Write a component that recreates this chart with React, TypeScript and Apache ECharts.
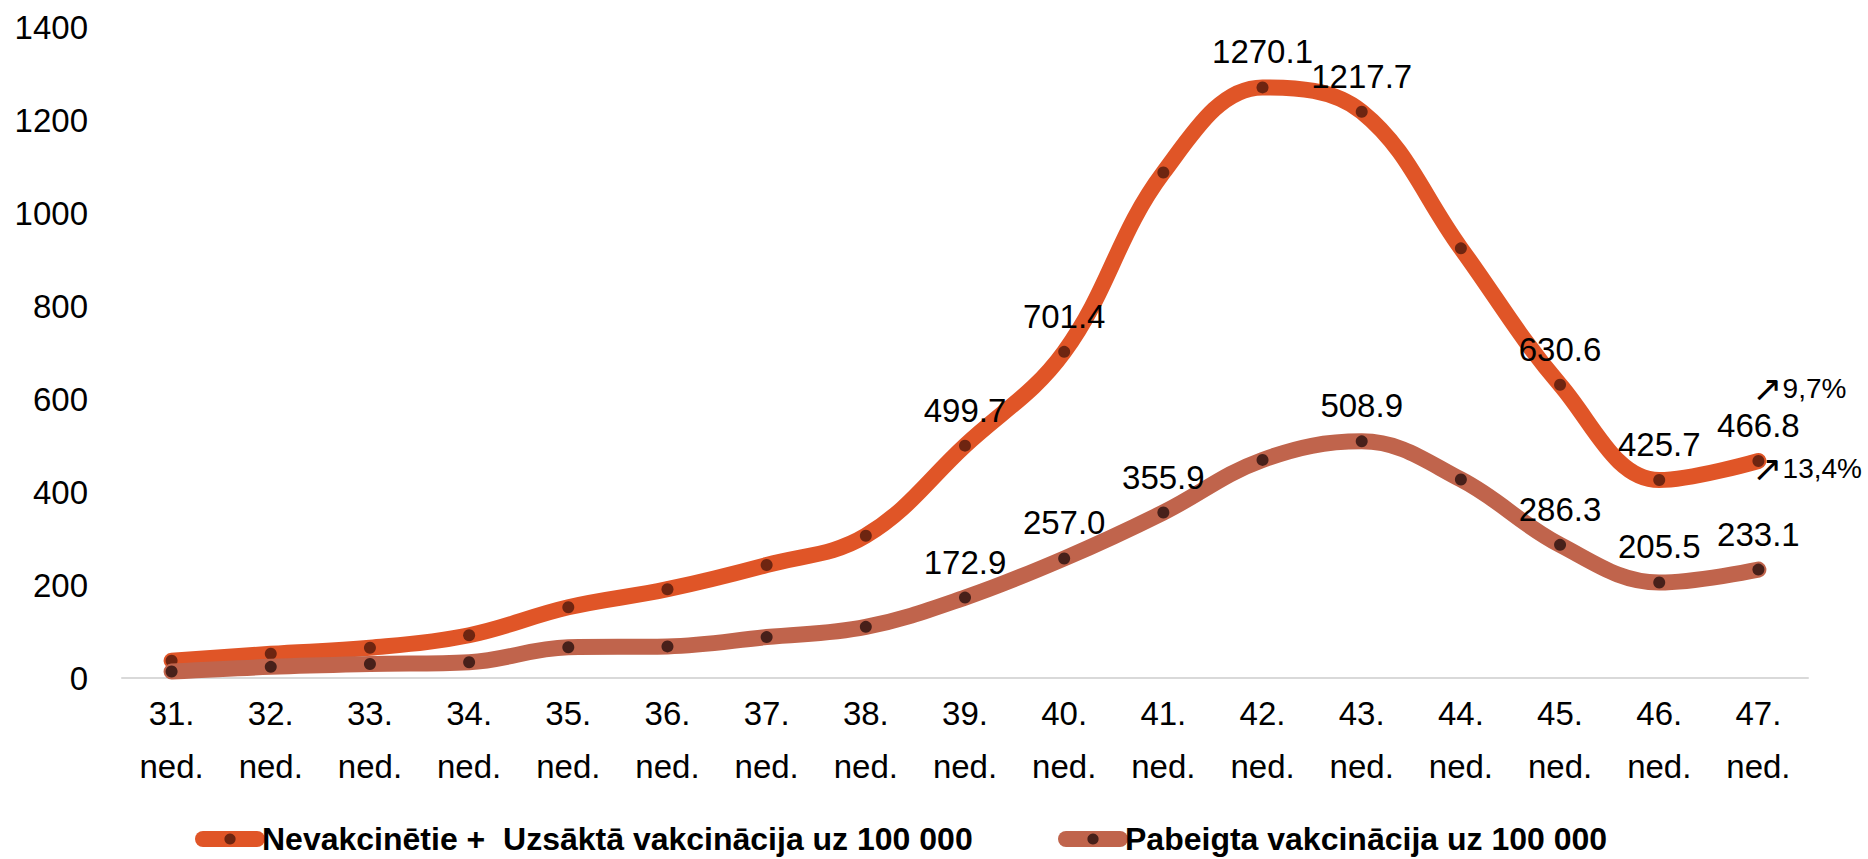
import React, { useEffect, useRef } from "react";
import * as echarts from "echarts";

const categories = [
  "31.\nned.", "32.\nned.", "33.\nned.", "34.\nned.", "35.\nned.", "36.\nned.",
  "37.\nned.", "38.\nned.", "39.\nned.", "40.\nned.", "41.\nned.", "42.\nned.",
  "43.\nned.", "44.\nned.", "45.\nned.", "46.\nned.", "47.\nned.",
];
const nameA = "Nevakcinētie +  Uzsāktā vakcinācija uz 100 000";
const nameB = "Pabeigta vakcinācija uz 100 000";
const valuesA = [37, 52, 65, 92, 152, 191, 243, 306, 499.7, 701.4, 1087, 1270.1, 1217.7, 924, 630.6, 425.7, 466.8];
const valuesB = [14, 24, 30, 34, 66, 68, 88, 110, 172.9, 257.0, 355.9, 469, 508.9, 427, 286.3, 205.5, 233.1];
const showLabelA = [0, 0, 0, 0, 0, 0, 0, 0, 1, 1, 0, 1, 1, 0, 1, 1, 1];
const showLabelB = [0, 0, 0, 0, 0, 0, 0, 0, 1, 1, 1, 0, 1, 0, 1, 1, 1];
const yMin = 0;
const yMax = 1400;
const yInterval = 200;
const arrow = "↗";
const changeA = "9,7%";
const changeB = "13,4%";

const FONT = "'Liberation Sans', Arial, sans-serif";
const colorA = "#E05527";
const colorB = "#C0644C";
const dotA = "#6E2511";
const dotB = "#47201A";

export default function App() {
  const ref = useRef<HTMLDivElement>(null);
  useEffect(() => {
    if (!ref.current) return;
    const chart = echarts.init(ref.current, null, { renderer: "svg" });
    const labelFmt = (p: any) => Number(p.value).toFixed(1);
    const mk = (vals: number[], show: number[]) =>
      vals.map((v, i) => ({ value: v, label: { show: !!show[i] } }));
    const labelBase = {
      position: "top",
      distance: 13,
      color: "#000",
      fontSize: 33,
      fontFamily: FONT,
      formatter: labelFmt,
    };
    const legendText = { color: "#000", fontSize: 32, fontWeight: "bold", fontFamily: FONT };
    chart.setOption({
      animation: false,
      backgroundColor: "#fff",
      grid: { left: 122, right: 60, top: 27, bottom: 181, containLabel: false },
      xAxis: {
        type: "category",
        data: categories,
        boundaryGap: true,
        axisLine: { show: true, lineStyle: { color: "#d9d9d9", width: 2 } },
        axisTick: { show: false },
        axisLabel: {
          color: "#000",
          fontSize: 33,
          fontFamily: FONT,
          lineHeight: 53,
          margin: 9,
          interval: 0,
        },
        splitLine: { show: false },
      },
      yAxis: {
        type: "value",
        min: yMin,
        max: yMax,
        interval: yInterval,
        axisLine: { show: false },
        axisTick: { show: false },
        splitLine: { show: false },
        axisLabel: {
          color: "#000",
          fontSize: 33,
          fontFamily: FONT,
          margin: 34,
          formatter: (v: number) => String(v),
        },
      },
      legend: [
        {
          data: [nameA],
          left: 190,
          top: 818,
          itemWidth: 54,
          itemHeight: 14,
          lineStyle: { width: 16, cap: "round" },
          textStyle: legendText,
        },
        {
          data: [nameB],
          left: 1053,
          top: 818,
          itemWidth: 54,
          itemHeight: 14,
          lineStyle: { width: 16, cap: "round" },
          textStyle: legendText,
        },
      ],
      series: [
        {
          name: nameA,
          type: "line",
          smooth: 0.38,
          data: mk(valuesA, showLabelA),
          symbol: "circle",
          symbolSize: 12,
          lineStyle: { color: colorA, width: 16, cap: "round", join: "round" },
          itemStyle: { color: dotA },
          label: labelBase,
          z: 2,
        },
        {
          name: nameB,
          type: "line",
          smooth: 0.38,
          data: mk(valuesB, showLabelB),
          symbol: "circle",
          symbolSize: 12,
          lineStyle: { color: colorB, width: 16, cap: "round", join: "round" },
          itemStyle: { color: dotB },
          label: labelBase,
          z: 3,
        },
      ],
    });
    const last = valuesA.length - 1;
    const p = chart.convertToPixel({ seriesIndex: 0 }, [last, valuesA[last]]) as number[];
    const annStyle = (t: string) => ({
      text: `{a|${arrow}}{b|${t}}`,
      verticalAlign: "middle",
      align: "left",
      rich: {
        a: { fontSize: 36, fontFamily: "'DejaVu Sans', sans-serif", fill: "#000", color: "#000" },
        b: { fontSize: 28, fontFamily: FONT, fill: "#000", color: "#000" },
      },
    });
    chart.setOption({
      graphic: [
        { type: "text", x: p[0] - 6, y: p[1] - 72, style: annStyle(changeA) },
        { type: "text", x: p[0] - 6, y: p[1] + 8, style: annStyle(changeB) },
      ],
    });
    return () => chart.dispose();
  }, []);
  return (
    <div
      ref={ref}
      style={{ position: "fixed", left: 0, top: 0, width: 1868, height: 859, background: "#fff" }}
    />
  );
}
